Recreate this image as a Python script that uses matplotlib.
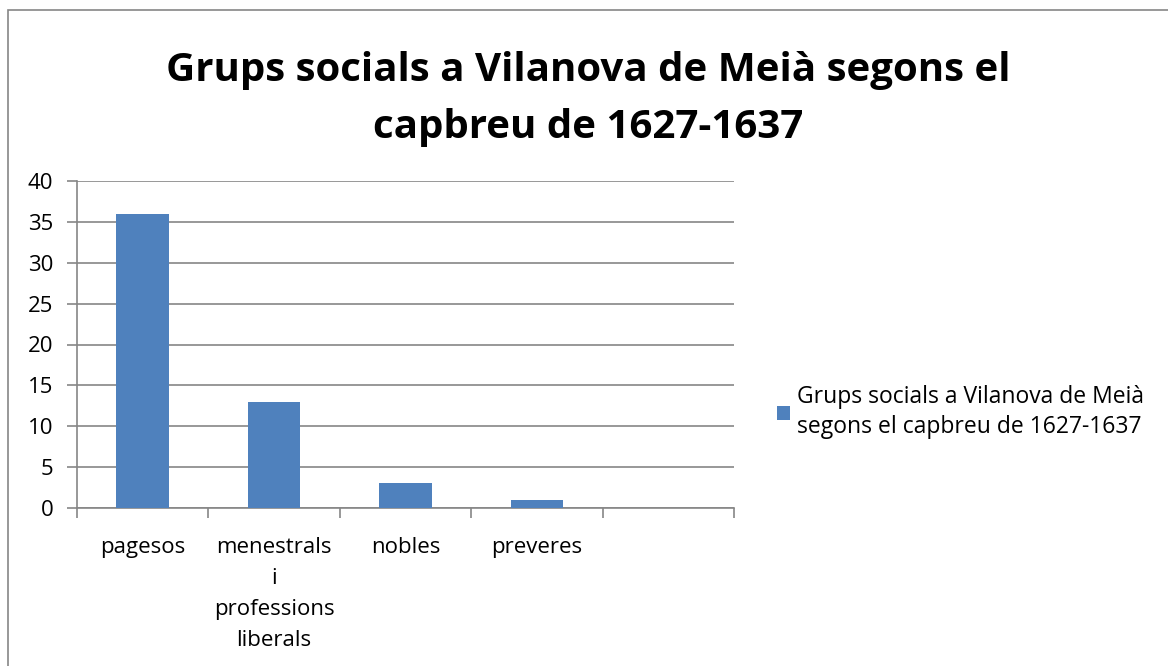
import matplotlib.pyplot as plt
import numpy as np

plt.rcParams['font.family'] = ['Open Sans', 'DejaVu Sans']

categories = ['pagesos', 'menestrals\ni\nprofessions\nliberals', 'nobles', 'preveres', '']
values = [36, 13, 3, 1, 0]
series_name = 'Grups socials a Vilanova de Meià\nsegons el capbreu de 1627-1637'
title = 'Grups socials a Vilanova de Meià segons el\ncapbreu de 1627-1637'

fig = plt.figure(figsize=(11.68, 6.66), dpi=100)
W, H = 1168, 666
ax = fig.add_axes([77 / W, 1 - 508 / H, (734 - 77) / W, (508 - 181) / H])

# chart border
fig.patches.append(plt.Rectangle((8 / W, -0.1), 1.2, 1 - 10 / H + 0.1, transform=fig.transFigure,
                                  fill=False, edgecolor='#868686', linewidth=1.2))

x = np.arange(len(categories))
bars = ax.bar(x[:4], values[:4], width=0.4, color='#4f81bd', zorder=3)
ax.set_xlim(-0.5, len(categories) - 0.5)
ax.set_ylim(0, 40)
ax.set_yticks(np.arange(0, 41, 5))
ax.yaxis.grid(True, color='#868686', linewidth=1.2, zorder=0)
ax.set_xticks(np.arange(len(categories) + 1) - 0.5)
ax.set_xticklabels([])
ax.set_xticks(x, minor=True)
ax.set_xticklabels(categories, minor=True, fontsize=16, linespacing=1.62, va='top')
ax.tick_params(axis='x', which='major', length=7, color='#868686', width=1.2)
ax.tick_params(axis='x', which='minor', length=0, pad=21)
ax.tick_params(axis='y', length=7, color='#868686', width=1.2, labelsize=16, pad=10)
for s in ['top', 'right']:
    ax.spines[s].set_visible(False)
for s in ['left', 'bottom']:
    ax.spines[s].set_color('#868686')
    ax.spines[s].set_linewidth(1.2)

fig.text(0.5035, 1 - 99 / H, title, ha='center', va='center', fontsize=29,
         fontweight='bold', linespacing=1.62)

leg = ax.legend([bars], [series_name], loc='center left', bbox_to_anchor=(766 / W, 1 - 412 / H),
                bbox_transform=fig.transFigure, frameon=False, fontsize=16.5, handlelength=0.55,
                handleheight=0.55, handletextpad=0.3, borderpad=0)
leg.get_texts()[0].set_linespacing(1.35)

fig.savefig('out.png', dpi=100)
